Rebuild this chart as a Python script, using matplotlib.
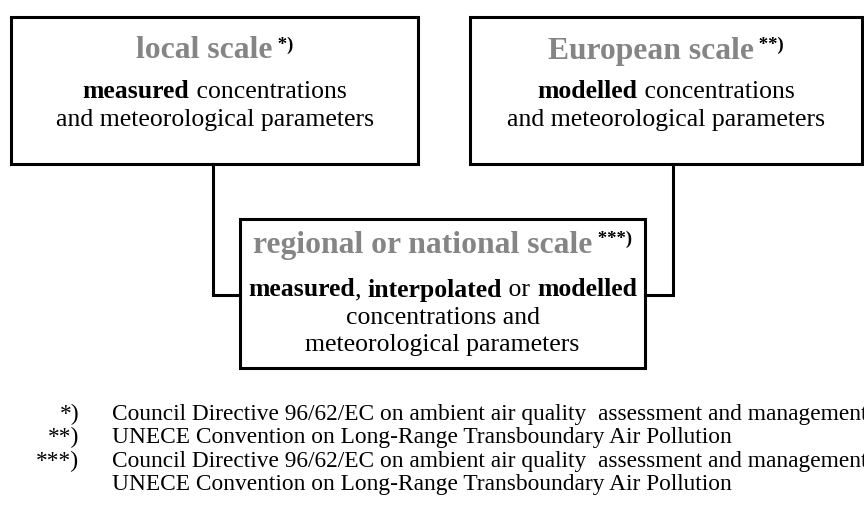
import matplotlib
matplotlib.use("Agg")
import matplotlib.pyplot as plt
from matplotlib.patches import Rectangle
from matplotlib.offsetbox import TextArea, HPacker, AnnotationBbox

plt.rcParams['font.family'] = ['Liberation Serif', 'DejaVu Serif']

# --- diagram text ---
titles = ["local scale", "European scale", "regional or national scale"]
title_marks = ["*)", "**)", "***)"]
# each body line is a list of (text, bold) pieces
bodies = [
    [[("measured", True), (" concentrations", False)],
     [("and meteorological parameters", False)]],
    [[("modelled", True), (" concentrations", False)],
     [("and meteorological parameters", False)]],
    [[("measured", True), (", ", False), ("interpolated", True),
      (" or ", False), ("modelled", True)],
     [("concentrations and", False)],
     [("meteorological parameters", False)]],
]
note_marks = ["*)", "**)", "***)", ""]
note_texts = [
    "Council Directive 96/62/EC on ambient air quality  assessment and management",
    "UNECE Convention on Long-Range Transboundary Air Pollution",
    "Council Directive 96/62/EC on ambient air quality  assessment and management",
    "UNECE Convention on Long-Range Transboundary Air Pollution",
]

# --- layout (pixels, y downwards) ---
boxes = [(11, 17, 418, 164), (470, 17, 862, 164), (240, 219, 645, 368)]
title_y = [51, 51, 245]
body_y0 = [92, 92, 290]
line_gap = [28, 28, 27.5]
GRAY = "#858585"

fig = plt.figure(figsize=(8.64, 5.17), dpi=100)
ax = fig.add_axes([0, 0, 1, 1])
ax.set_xlim(0, 864)
ax.set_ylim(517, 0)
ax.axis("off")

for (x0, y0, x1, y1) in boxes:
    ax.add_patch(Rectangle((x0, y0), x1 - x0, y1 - y0, fill=False,
                           edgecolor="black", lw=2.2, joinstyle="miter"))

# connectors from upper boxes to lower box
ax.plot([213, 213, 240], [164, 295, 295], color="black", lw=2.2,
        solid_joinstyle="miter")
ax.plot([673, 673, 645], [164, 295, 295], color="black", lw=2.2,
        solid_joinstyle="miter")


def place(children, x, y, align="baseline"):
    pack = HPacker(children=children, align=align, pad=0, sep=0)
    ab = AnnotationBbox(pack, (x, y), xycoords="data", frameon=False,
                        box_alignment=(0.5, 0.5), pad=0)
    ax.add_artist(ab)


for i, (x0, y0, x1, y1) in enumerate(boxes):
    cx = (x0 + x1) / 2
    place([TextArea(titles[i], textprops=dict(fontsize=22.8, fontweight="bold",
                                              color=GRAY)),
           TextArea(" " + title_marks[i], textprops=dict(fontsize=13.5,
                                                         fontweight="bold",
                                                         color="black"))],
          cx, title_y[i], align="top")
    for j, line in enumerate(bodies[i]):
        kids = [TextArea(t, textprops=dict(fontsize=18.5, color="black",
                                           fontweight="bold" if b else "normal"))
                for t, b in line]
        place(kids, cx, body_y0[i] + j * line_gap[i])

for k, (m, t) in enumerate(zip(note_marks, note_texts)):
    y = 414.5 + k * 23.3
    ax.text(79, y, m, fontsize=16.8, ha="right", va="center")
    ax.text(112, y, t, fontsize=16.8, ha="left", va="center")

fig.savefig("out.png", dpi=100)
